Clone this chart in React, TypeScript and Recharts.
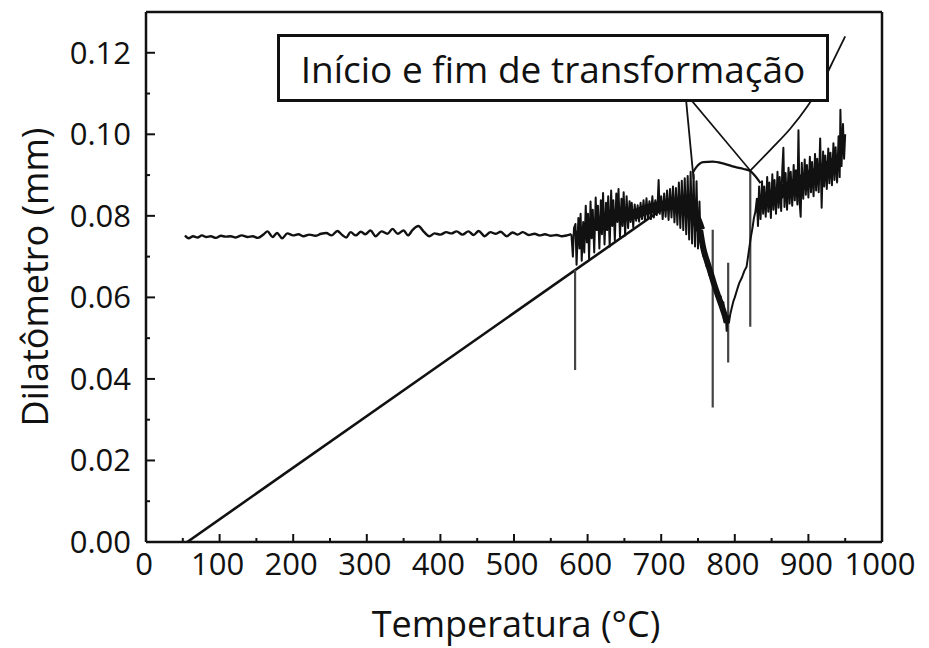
import React from 'react';
import { LineChart, Line, XAxis, YAxis, ReferenceLine } from 'recharts';

// ---- axis ticks ----
const xMajorTicks = [0, 100, 200, 300, 400, 500, 600, 700, 800, 900, 1000];
const xMajorLabels = ['0', '100', '200', '300', '400', '500', '600', '700', '800', '900', '1000'];
const xMinorTicks = [50, 150, 250, 350, 450, 550, 650, 750, 850, 950];
const yMajorTicks = [0, 0.02, 0.04, 0.06, 0.08, 0.1, 0.12];
const yMajorLabels = ['0.00', '0.02', '0.04', '0.06', '0.08', '0.10', '0.12'];
const yMinorTicks = [0.01, 0.03, 0.05, 0.07, 0.09, 0.11];

const xTitle = 'Temperatura (°C)';
const yTitle = 'Dilatômetro (mm)';
const legendText = 'Início e fim de transformação';

// ---- series values [temperature °C, dilatation mm] ----
const heatingFlat: [number, number][] = [
  [53, 0.0752], [58, 0.0745], [64, 0.075], [70, 0.0747], [76, 0.0752], [82, 0.0748], [88, 0.075],
  [95, 0.0746], [102, 0.0751], [108, 0.0749], [115, 0.075], [122, 0.0747], [130, 0.0752], [138, 0.0748],
  [145, 0.075], [152, 0.0746], [160, 0.0755], [165, 0.0762], [172, 0.0748], [178, 0.0758], [185, 0.0745],
  [192, 0.0757], [200, 0.0752], [207, 0.0755], [214, 0.075], [222, 0.0754], [230, 0.0751], [238, 0.0756],
  [245, 0.0758], [252, 0.0752], [260, 0.0763], [266, 0.0754], [272, 0.0747], [278, 0.076], [285, 0.0752],
  [292, 0.0761], [298, 0.0755], [305, 0.0764], [312, 0.075], [320, 0.0762], [328, 0.0756], [335, 0.0768],
  [342, 0.0756], [350, 0.0764], [356, 0.0752], [362, 0.0765], [370, 0.0775], [378, 0.076], [385, 0.075],
  [392, 0.0757], [400, 0.0754], [408, 0.076], [415, 0.0757], [422, 0.0762], [430, 0.0754], [438, 0.0762],
  [445, 0.0753], [452, 0.0763], [460, 0.075], [468, 0.076], [475, 0.0756], [482, 0.0761], [490, 0.075],
  [498, 0.0759], [505, 0.0754], [512, 0.076], [520, 0.0753], [528, 0.0756], [535, 0.0752], [542, 0.0755],
  [550, 0.0751], [558, 0.0753], [565, 0.075], [572, 0.0752], [578, 0.0755],
];

const heatingBandLow: [number, number][] = [
  [578, 0.0755], [580, 0.07], [581.5, 0.077], [583.5, 0.078], [585, 0.068], [587.5, 0.0795], [589, 0.072],
  [590.5, 0.0805], [592, 0.069], [594, 0.0785], [595.5, 0.071], [597.5, 0.0825], [599, 0.0735], [600.5, 0.0805],
  [602, 0.0695], [604, 0.0835], [605.5, 0.0745], [607, 0.0815], [609, 0.071], [611, 0.0845], [612.5, 0.0765],
  [614, 0.0825], [616, 0.072], [618, 0.0838], [619.5, 0.0755], [621, 0.0856], [623, 0.073], [625, 0.0832],
  [626.5, 0.0765], [628, 0.0848], [630, 0.0725], [632, 0.0862], [633.5, 0.0775], [635, 0.0838], [637, 0.074],
  [639, 0.0855], [640.5, 0.0785], [642, 0.0866], [644, 0.0748], [646, 0.0842], [647.5, 0.0775], [649, 0.0858],
  [651, 0.0752], [653, 0.0848], [655, 0.077], [657, 0.0836], [658.5, 0.0785], [660, 0.0832], [662, 0.0772],
  [664, 0.0828], [666, 0.0788], [668, 0.0826], [670, 0.0786], [672, 0.0832], [674, 0.0792], [676, 0.0838],
  [678, 0.0788], [680, 0.0843], [682, 0.0796], [684, 0.0836], [686, 0.0792], [688, 0.0848], [690, 0.0796],
  [692, 0.0838], [694, 0.0802], [695.5, 0.0845], [696.5, 0.0888], [698, 0.0805], [700, 0.0848], [702, 0.0792],
  [704, 0.0855], [706, 0.0798], [708, 0.0862], [710, 0.079], [712, 0.0866], [714, 0.0796], [716, 0.0872],
  [718, 0.0784], [720, 0.0868], [722, 0.0778], [724, 0.0882], [726, 0.077], [728, 0.0886], [730, 0.0765],
  [732, 0.0892], [734, 0.0755], [736, 0.0898], [738, 0.0742], [740, 0.0908], [742, 0.0732], [744, 0.0902],
  [746, 0.0725], [748, 0.0885], [750, 0.072], [752, 0.0835], [753.5, 0.0735],
];

const heatingDip: [number, number][] = [
  [755, 0.0745], [757, 0.0702], [759, 0.072], [761, 0.0678], [763, 0.0695], [765, 0.0655], [767, 0.0672],
  [769, 0.0638], [771, 0.0632], [773, 0.0628], [775, 0.0603], [777, 0.0618], [779, 0.0588], [781, 0.0602],
  [783, 0.0568], [784.5, 0.0588], [786, 0.0542], [787.5, 0.0562], [789, 0.0518], [790.5, 0.0555], [792, 0.0538],
  [794, 0.056], [796, 0.0575], [798, 0.059], [800, 0.06], [803, 0.0618], [806, 0.0635], [810, 0.065],
  [813, 0.0665], [816, 0.0675], [818, 0.07], [820, 0.0725], [822, 0.075], [824, 0.077], [826, 0.0795],
  [828, 0.081],
];

const heatingBandHigh: [number, number][] = [
  [830, 0.0842], [831.5, 0.0775], [833, 0.0872], [835, 0.0792], [837, 0.0885], [838.5, 0.0805], [840, 0.0872],
  [842, 0.0798], [844, 0.0895], [845.5, 0.081], [847, 0.0882], [849, 0.0795], [851, 0.0902], [852.5, 0.0815],
  [854, 0.0888], [856, 0.0805], [858, 0.0908], [859.5, 0.082], [861, 0.0895], [863, 0.0812], [864.5, 0.0912],
  [866, 0.0967], [867.5, 0.0822], [869, 0.0905], [871, 0.0815], [873, 0.0918], [874.5, 0.083], [876, 0.0908],
  [878, 0.0825], [880, 0.0925], [881.5, 0.0838], [883, 0.0912], [885, 0.0828], [886.5, 0.101], [888, 0.0835],
  [889.5, 0.0798], [891, 0.093], [893, 0.0842], [895, 0.0938], [896.5, 0.0852], [898, 0.0925], [900, 0.0845],
  [902, 0.0945], [903.5, 0.0858], [905, 0.0932], [907, 0.0848], [909, 0.0952], [910.5, 0.0862], [912, 0.094],
  [914, 0.0858], [916, 0.099], [918, 0.082], [920, 0.0958], [921.5, 0.0872], [923, 0.0948], [925, 0.0866],
  [927, 0.0965], [928.5, 0.088], [930, 0.0955], [932, 0.0875], [934, 0.0978], [935.5, 0.0888], [937, 0.0968],
  [939, 0.0882], [941, 0.0995], [942.5, 0.0895], [943.5, 0.106], [945, 0.0922], [947, 0.1025], [948.5, 0.094],
  [950, 0.1],
];

// dense centre of the noisy trace
const bandCoreLow: [number, number][] = [
  [587, 0.075], [592, 0.0758], [598, 0.0768], [604, 0.0775], [610, 0.0778], [616, 0.0786],
  [622, 0.0788], [628, 0.0795], [634, 0.0802], [640, 0.0805], [646, 0.0808], [652, 0.0806], [658, 0.0805],
  [664, 0.0804], [670, 0.0808], [676, 0.0813], [682, 0.0816], [688, 0.082], [694, 0.0822], [700, 0.0824],
  [706, 0.0826], [712, 0.0828], [718, 0.0828], [724, 0.0826], [730, 0.082], [736, 0.081], [742, 0.0802],
  [748, 0.079], [753, 0.0765],
];
const dipCore: [number, number][] = [
  [753, 0.0765], [757, 0.0722], [762, 0.069], [767, 0.0662], [772, 0.0632], [777, 0.0605], [782, 0.058],
  [786, 0.0558], [789, 0.0538],
];
const bandCoreHigh: [number, number][] = [
  [838, 0.0836], [844, 0.0841], [850, 0.0847], [856, 0.0852], [864, 0.086], [872, 0.0866], [880, 0.0874],
  [888, 0.0882], [896, 0.089], [904, 0.0898], [912, 0.0903], [920, 0.0912], [928, 0.092], [936, 0.0928],
  [940, 0.0934],
];

const coolingLine: [number, number][] = [[56, 0], [700, 0.0815]];

const humpCurve: [number, number][] = [
  [743, 0.0906], [748, 0.092], [757, 0.0932], [770, 0.0933], [785, 0.0928], [800, 0.092], [812, 0.0915],
  [821, 0.091], [828, 0.0897], [835, 0.088],
];

const tangentStart: [number, number][] = [[731, 0.1137], [744, 0.089]];
const tangentMid: [number, number][] = [[738, 0.109], [821, 0.0911]];
const tangentEnd: [number, number][] = [[821, 0.0911], [850, 0.0965], [875, 0.1013], [898, 0.1067], [920, 0.113], [935, 0.1185], [950, 0.124]];

const spikes: [number, number | null][] = [
  [583, 0.0668], [583, 0.0422], [583, null],
  [770, 0.0766], [770, 0.033], [770, null],
  [791, 0.0685], [791, 0.044], [791, null],
  [821, 0.0913], [821, 0.0528],
];

const toRows = (arr: [number, number | null][]) => arr.map(([t, d]) => ({ t, d }));

const noisyRows = toRows([...heatingBandLow, ...heatingDip, ...heatingBandHigh]);

const FONT = '"Open Sans", "Noto Sans", sans-serif';
const INK = '#111';

const labelFor = (v: number, ticks: number[], labels: string[]) => {
  const i = ticks.findIndex((t) => Math.abs(t - v) < 1e-9);
  return i >= 0 ? labels[i] : null;
};

const XTick = (props: any) => {
  const { x, y, payload } = props;
  const lab = labelFor(payload.value, xMajorTicks, xMajorLabels);
  const len = lab !== null ? 8 : 4;
  return (
    <g>
      <line x1={x} y1={y} x2={x} y2={y - len} stroke={INK} strokeWidth={2} />
      {lab !== null && (
        <text x={x - 2} y={y + 33} textAnchor="middle" fontSize={31} fontFamily={FONT} fill={INK}>
          {lab}
        </text>
      )}
    </g>
  );
};

const YTick = (props: any) => {
  const { x, y, payload } = props;
  const lab = labelFor(payload.value, yMajorTicks, yMajorLabels);
  const len = lab !== null ? 9 : 4;
  return (
    <g>
      <line x1={x} y1={y} x2={x + len} y2={y} stroke={INK} strokeWidth={2} />
      {lab !== null && (
        <text x={x - 15} y={y + 11} textAnchor="end" fontSize={31} fontFamily={FONT} fill={INK}>
          {lab}
        </text>
      )}
    </g>
  );
};

const xAllTicks = [...xMajorTicks, ...xMinorTicks].sort((a, b) => a - b);
const yAllTicks = [...yMajorTicks, ...yMinorTicks].sort((a, b) => a - b);

const lineProps = { dataKey: 'd', dot: false, isAnimationActive: false, stroke: INK } as const;

export default function App() {
  return (
    <div style={{ position: 'absolute', left: 0, top: 0, width: 929, height: 648, background: '#fff' }}>
      <LineChart width={929} height={648} margin={{ top: 12, right: 47, bottom: 0, left: 0 }}>
        <XAxis
          dataKey="t"
          type="number"
          domain={[0, 1000]}
          ticks={xAllTicks}
          interval={0}
          tickSize={0}
          tickMargin={0}
          tickLine={false}
          tick={<XTick />}
          height={106}
          axisLine={{ stroke: INK, strokeWidth: 2.5 }}
          allowDataOverflow
          label={{
            content: (p: any) => {
              const vb = p.viewBox || {};
              return (
                <text x={vb.x + vb.width / 2 + 2} y={637} textAnchor="middle" fontSize={36} fontFamily={FONT} fill={INK}>
                  {xTitle}
                </text>
              );
            },
          }}
        />
        <YAxis
          dataKey="d"
          type="number"
          domain={[0, 0.13]}
          ticks={yAllTicks}
          interval={0}
          tickSize={0}
          tickMargin={0}
          tickLine={false}
          tick={<YTick />}
          width={146}
          axisLine={{ stroke: INK, strokeWidth: 2.5 }}
          allowDataOverflow
          label={{
            content: (p: any) => {
              const vb = p.viewBox || {};
              const cy = vb.y + vb.height / 2;
              return (
                <text x={48} y={cy} transform={`rotate(-90 48 ${cy})`} textAnchor="middle" fontSize={36} fontFamily={FONT} fill={INK}>
                  {yTitle}
                </text>
              );
            },
          }}
        />
        <ReferenceLine y={0.13} stroke={INK} strokeWidth={2.5} />
        <ReferenceLine x={1000} stroke={INK} strokeWidth={2.5} />
        <Line {...lineProps} data={toRows(coolingLine)} type="linear" strokeWidth={2.6} />
        <Line {...lineProps} data={toRows(spikes)} type="linear" stroke="#444" strokeWidth={2.2} connectNulls={false} />
        <Line {...lineProps} data={toRows(heatingFlat)} type="monotone" strokeWidth={2.4} />
        <Line {...lineProps} data={toRows(bandCoreLow)} type="monotone" strokeWidth={10} />
        <Line {...lineProps} data={toRows(dipCore)} type="monotone" strokeWidth={6} />
        <Line {...lineProps} data={toRows(bandCoreHigh)} type="monotone" strokeWidth={13} />
        <Line {...lineProps} data={noisyRows} type="linear" strokeWidth={2} strokeLinejoin="round" />
        <Line {...lineProps} data={toRows(humpCurve)} type="monotone" strokeWidth={2.2} />
        <Line {...lineProps} data={toRows(tangentStart)} type="linear" strokeWidth={1.8} />
        <Line {...lineProps} data={toRows(tangentMid)} type="linear" strokeWidth={1.6} />
        <Line {...lineProps} data={toRows(tangentEnd)} type="monotone" strokeWidth={1.8} />
      </LineChart>
      <div
        style={{
          position: 'absolute',
          left: 277,
          top: 34,
          width: 552,
          height: 68,
          boxSizing: 'border-box',
          border: `3px solid ${INK}`,
          background: '#fff',
          display: 'flex',
          alignItems: 'center',
          justifyContent: 'center',
          fontFamily: FONT,
          fontSize: 37,
          color: INK,
          lineHeight: 1,
          whiteSpace: 'nowrap',
        }}
      >
        {legendText}
      </div>
    </div>
  );
}
